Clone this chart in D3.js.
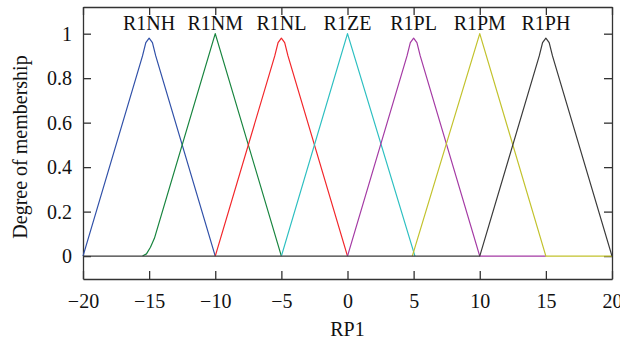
<html>
<head>
    <meta charset="utf-8">
    <script src="https://d3js.org/d3.v7.min.js"></script>
    <style>
        body { margin: 0; background: #fff; }
        text { font-family: "Liberation Serif", "DejaVu Serif", serif; }
    </style>
</head>
<body>
<div id="my_dataviz"></div>
<script>

    // data
    var names = ["R1NH", "R1NM", "R1NL", "R1ZE", "R1PL", "R1PM", "R1PH"];
    var peaks = [-15, -10, -5, 0, 5, 10, 15];
    var colors = ["#3050a8", "#17843e", "#f2262a", "#2cbfc1", "#a43aa4", "#c2c22c", "#3a3a3a"];

    var r1nh = [[-20, 0], [-15.5, 0.9], [-15.25, 0.96], [-15, 0.98], [-14.75, 0.96], [-14.5, 0.9], [-10, 0]];
    var r1nm = [[-15.5, 0], [-15.2, 0.01], [-14.9, 0.04], [-14.6, 0.08], [-10, 1], [-5, 0]];
    var r1nl = [[-10, 0], [-5.5, 0.9], [-5.25, 0.96], [-5, 0.98], [-4.75, 0.96], [-4.5, 0.9], [0, 0]];
    var r1ze = [[-5, 0], [0, 1], [5.1, 0]];
    var r1pl = [[0, 0], [4.5, 0.9], [4.75, 0.96], [5, 0.98], [5.25, 0.96], [5.5, 0.9], [10, 0], [15, 0]];
    var r1pm = [[4.9, 0], [10, 1], [15, 0], [20, 0]];
    var r1ph = [[-20, 0], [10, 0], [14.5, 0.9], [14.75, 0.96], [15, 0.98], [15.25, 0.96], [15.5, 0.9], [20, 0]];
    var series = [r1nh, r1nm, r1nl, r1ze, r1pl, r1pm, r1ph];

    var xTicks = [-20, -15, -10, -5, 0, 5, 10, 15, 20];
    var yTicks = [0, 0.2, 0.4, 0.6, 0.8, 1];

    // set the dimensions and margins of the graph
    var margin = { top: 7, right: 8, bottom: 68, left: 83 },
        width = 620 - margin.left - margin.right,
        height = 347 - margin.top - margin.bottom;

    var svg = d3.select("#my_dataviz")
        .append("svg")
        .attr("width", width + margin.left + margin.right)
        .attr("height", height + margin.top + margin.bottom)
        .append("g")
        .attr("transform", "translate(" + margin.left + "," + margin.top + ")");

    var x = d3.scaleLinear().domain([-20, 20]).range([0, width]);
    var y = d3.scaleLinear().domain([-0.103, 1.12]).range([height, 0]);

    var axisColor = "#333";
    var fontSize = "20px";

    // bottom axis with labels, ticks pointing in
    var gx = svg.append("g")
        .attr("transform", "translate(0," + height + ")")
        .call(d3.axisBottom(x).tickValues(xTicks).tickSizeInner(-8).tickSizeOuter(0).tickPadding(15)
            .tickFormat(function (d) { return d < 0 ? "\u2212" + Math.abs(d) : d; }));

    // left axis
    var gy = svg.append("g")
        .call(d3.axisLeft(y).tickValues(yTicks).tickSizeInner(-8).tickSizeOuter(0).tickPadding(11)
            .tickFormat(function (d) { return d; }));

    // mirror ticks on top and right
    var gt = svg.append("g")
        .call(d3.axisTop(x).tickValues(xTicks).tickSizeInner(-8).tickSizeOuter(0).tickFormat(""));
    var gr = svg.append("g")
        .attr("transform", "translate(" + width + ",0)")
        .call(d3.axisRight(y).tickValues(yTicks).tickSizeInner(-8).tickSizeOuter(0).tickFormat(""));

    [gx, gy, gt, gr].forEach(function (g) {
        g.selectAll("path, line").attr("stroke", axisColor).attr("stroke-width", 1.3);
        g.selectAll("text").attr("fill", "#111").style("font-size", fontSize)
            .style("font-family", "'Liberation Serif', serif");
    });

    // the curves
    var line = d3.line()
        .x(function (d) { return x(d[0]); })
        .y(function (d) { return y(d[1]); });

    svg.selectAll(".mf")
        .data(series)
        .enter()
        .append("path")
        .attr("class", "mf")
        .attr("d", line)
        .attr("fill", "none")
        .attr("stroke", function (d, i) { return colors[i]; })
        .attr("stroke-width", 1.2)
        .attr("stroke-linejoin", "round");

    // set labels above each peak
    svg.selectAll(".lbl")
        .data(names)
        .enter()
        .append("text")
        .attr("class", "lbl")
        .attr("x", function (d, i) { return x(peaks[i]); })
        .attr("y", 23)
        .attr("text-anchor", "middle")
        .style("font-size", fontSize)
        .attr("fill", "#111")
        .text(function (d) { return d; });

    // axis titles
    svg.append("text")
        .attr("x", width / 2)
        .attr("y", height + 57)
        .attr("text-anchor", "middle")
        .style("font-size", fontSize)
        .attr("fill", "#111")
        .text("RP1");

    svg.append("text")
        .attr("transform", "translate(-56," + (height / 2 + 4) + ") rotate(-90)")
        .attr("text-anchor", "middle")
        .style("font-size", fontSize)
        .attr("fill", "#111")
        .text("Degree of membership");

</script>
</body>
</html>
